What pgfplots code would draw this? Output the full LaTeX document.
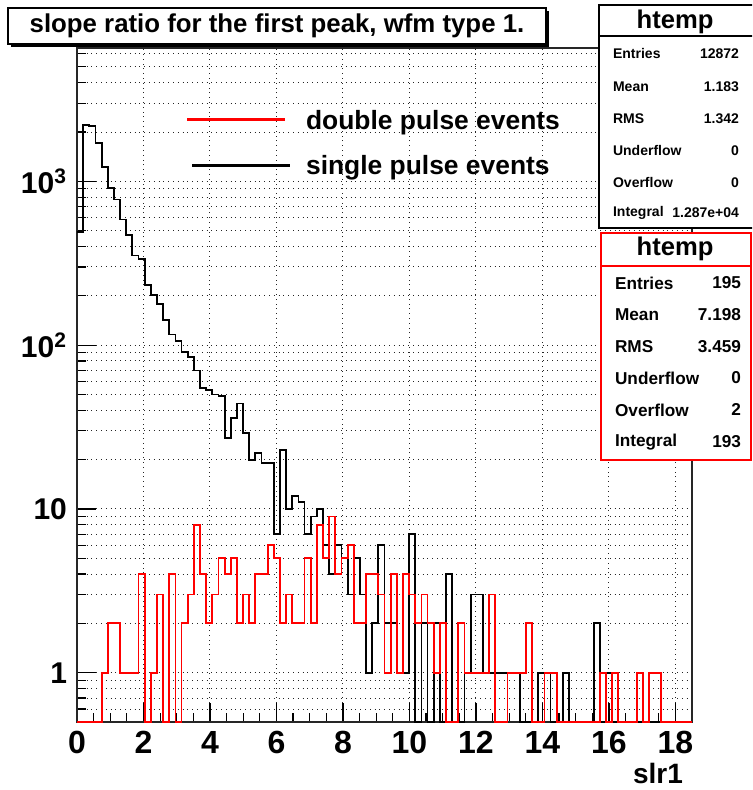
\documentclass[border=0pt]{standalone}
\usepackage{fontspec}
\setmainfont{Liberation Sans}
\usepackage{pgfplots}
\pgfplotsset{compat=1.18}
\usepackage{pgfplotstable}

% slr1 histograms: 100 bins on [0, 18.5]; "lo" is the lower bin edge,
% the last row closes the final bin.
\pgfplotstableread{
lo      single double
0       490    0
0.185   2220   0
0.370   2185   0
0.555   1720   0
0.740   1220   1
0.925   913    2
1.110   774    2
1.295   584    1
1.480   471    1
1.665   353    1
1.850   334    4
2.035   232    0
2.220   203    1
2.405   178    3
2.590   142    0
2.775   116    4
2.960   106    0
3.145   91     2
3.330   85     3
3.515   70     8
3.700   55     4
3.885   53     2
4.070   50     3
4.255   49     5
4.440   27     4
4.625   36     5
4.810   44     2
4.995   29     3
5.180   20     2
5.365   22     4
5.550   19     4
5.735   19     6
5.920   7      5
6.105   23     2
6.290   10     3
6.475   12     2
6.660   11     2
6.845   7      5
7.030   9      2
7.215   10     8
7.400   6      5
7.585   4      9
7.770   6      4
7.955   5      5
8.140   3      6
8.325   5      2
8.510   3      2
8.695   1      4
8.880   2      4
9.065   6      3
9.250   2      1
9.435   2      4
9.620   1      1
9.805   1      4
9.990   7      3
10.175  0      2
10.360  2      3
10.545  0      2
10.730  2      1
10.915  0      2
11.100  4      0
11.285  0      0
11.470  0      2
11.655  1      1
11.840  3      1
12.025  3      1
12.210  1      1
12.395  1      3
12.580  1      0
12.765  1      0
12.950  1      1
13.135  1      1
13.320  0      1
13.505  0      2
13.690  0      0
13.875  1      0
14.060  1      1
14.245  0      1
14.430  0      0
14.615  1      0
14.800  0      0
14.985  0      0
15.170  0      0
15.355  0      0
15.540  2      0
15.725  0      1
15.910  1      0
16.095  0      1
16.280  0      0
16.465  0      0
16.650  0      0
16.835  0      1
17.020  0      0
17.205  0      1
17.390  0      1
17.575  0      0
17.760  0      0
17.945  0      0
18.130  0      0
18.315  0      0
18.500  0      0
}\slrtable

\newcommand{\statfont}{\fontsize{7}{8}\selectfont\bfseries}
\newcommand{\statfontB}{\fontsize{8.6}{9}\selectfont\bfseries}
\newcommand{\headfont}{\fontsize{12.8}{13}\selectfont\bfseries}

\begin{document}
\begin{tikzpicture}[x=0.5pt,y=0.5pt]
\useasboundingbox (0,0) rectangle (752,790);
\clip (0,0) rectangle (752,790);
\fill[white] (0,0) rectangle (752,790);

\begin{axis}[
  at={(38.5pt,34pt)}, anchor=south west,
  scale only axis, width=307.5pt, height=337pt,
  xmin=0, xmax=18.5,
  ymode=log, ymin=0.5, ymax=6520,
  xtick={0,2,...,18},
  xticklabels={0,2,4,6,8,10,12,14,16,18},
  minor x tick num=3,
  ytick={1,10,100,1000},
  yticklabels={1,10,10\textsuperscript{2},10\textsuperscript{3}},
  minor ytick={0.6,0.7,0.8,0.9,2,3,4,5,6,7,8,9,20,30,40,50,60,70,80,90,200,300,400,500,600,700,800,900,2000,3000,4000,5000,6000},
  tick align=inside, xtick pos=bottom, ytick pos=left,
  major tick length=9.5pt, minor tick length=4.5pt,
  xmajorgrids, ymajorgrids, yminorgrids,
  major grid style={dotted, black!85, line width=0.5pt},
  minor grid style={dotted, black!85, line width=0.5pt},
  axis line style={black!85, line width=0.6pt},
  tick style={black, line width=0.6pt},
  xticklabel style={font=\fontsize{16}{16}\selectfont\bfseries, yshift=-1pt},
  yticklabel style={font=\fontsize{15}{15}\selectfont\bfseries, xshift=-1.5pt},
  xlabel={slr1},
  xlabel style={at={(axis description cs:1,0)}, anchor=east, yshift=-25.5pt,
    xshift=-1pt, font=\fontsize{14}{14}\selectfont\bfseries},
  clip=true,
]
\addplot[const plot, black, line width=0.9pt]
  table[x=lo, y expr={max(\thisrow{single},0.5)}] {\slrtable};
\addplot[const plot, red, line width=0.9pt]
  table[x=lo, y expr={max(\thisrow{double},0.5)}] {\slrtable};
\end{axis}

% title pave with shadow
\fill[black] (11,743) rectangle (549,779);
\draw[fill=white, line width=0.6pt] (8,746) rectangle (546,782);
\node[font=\fontsize{12.9}{14}\selectfont\bfseries] at (277,764)
  {slope ratio for the first peak, wfm type 1.};

% legend
\draw[red, line width=1.5pt] (187,670) -- (285,670);
\node[anchor=west, font=\fontsize{13.2}{14}\selectfont\bfseries] at (299,667)
  {double pulse events};
\draw[black, line width=1.5pt] (192,624) -- (290,624);
\node[anchor=west, font=\fontsize{13.2}{14}\selectfont\bfseries] at (299,622)
  {single pulse events};

% statistics box, single pulse events
\draw[fill=white, line width=0.6pt] (599,562) rectangle (770,785);
\draw[line width=0.6pt] (599,754) -- (770,754);
\node[font=\headfont] at (675,768) {htemp};
\node[anchor=west, font=\statfont] at (606,736) {Entries};
\node[anchor=east, font=\statfont] at (746,736) {12872};
\node[anchor=west, font=\statfont] at (606,703) {Mean};
\node[anchor=east, font=\statfont] at (746,703) {1.183};
\node[anchor=west, font=\statfont] at (606,671) {RMS};
\node[anchor=east, font=\statfont] at (746,671) {1.342};
\node[anchor=west, font=\statfont] at (606,639) {Underflow};
\node[anchor=east, font=\statfont] at (746,639) {0};
\node[anchor=west, font=\statfont] at (606,607) {Overflow};
\node[anchor=east, font=\statfont] at (746,607) {0};
\node[anchor=west, font=\statfont] at (606,577) {Integral};
\node[anchor=east, font=\statfont] at (746,577) {1.287e+04};

% statistics box, double pulse events
\draw[red, fill=white, line width=0.6pt] (601,330) rectangle (751,557);
\draw[red, line width=0.6pt] (601,524) -- (751,524);
\node[font=\headfont] at (675,541) {htemp};
\node[anchor=west, font=\statfontB] at (608,507) {Entries};
\node[anchor=east, font=\statfontB] at (748,507) {195};
\node[anchor=west, font=\statfontB] at (608,475) {Mean};
\node[anchor=east, font=\statfontB] at (748,475) {7.198};
\node[anchor=west, font=\statfontB] at (608,443) {RMS};
\node[anchor=east, font=\statfontB] at (748,443) {3.459};
\node[anchor=west, font=\statfontB] at (608,412) {Underflow};
\node[anchor=east, font=\statfontB] at (748,412) {0};
\node[anchor=west, font=\statfontB] at (608,380) {Overflow};
\node[anchor=east, font=\statfontB] at (748,380) {2};
\node[anchor=west, font=\statfontB] at (608,348) {Integral};
\node[anchor=east, font=\statfontB] at (748,348) {193};
\end{tikzpicture}
\end{document}
